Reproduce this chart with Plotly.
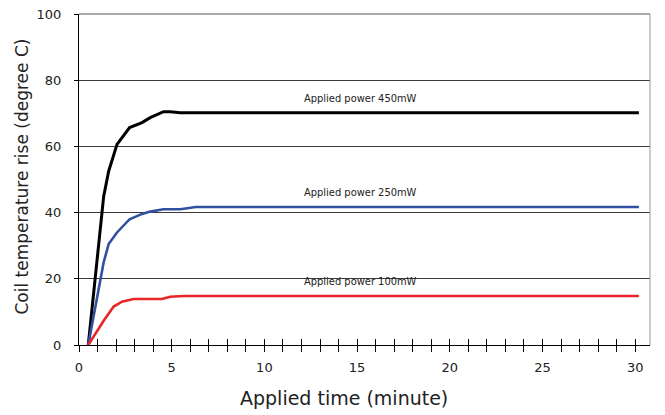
import plotly.graph_objects as go

# 450 mW series
t_450 = [0.5, 1.33, 1.6, 2.05, 2.73, 3.4, 3.84, 4.56, 4.92, 5.46, 30.2]
temp_450 = [0, 44.9, 52.5, 60.6, 65.7, 67.2, 68.7, 70.5, 70.5, 70.2, 70.2]

# 250 mW series
t_250 = [0.5, 1.33, 1.6, 2.05, 2.73, 3.4, 3.84, 4.56, 4.92, 5.46, 6.3, 30.2]
temp_250 = [0, 25.0, 30.5, 34.0, 38.0, 39.6, 40.3, 41.0, 41.0, 41.0, 41.7, 41.7]

# 100 mW series
t_100 = [0.5, 1.33, 1.87, 2.32, 2.94, 4.47, 4.92, 5.64, 30.2]
temp_100 = [0, 7.3, 11.6, 13.1, 13.9, 13.9, 14.6, 14.8, 14.8]

labels = ["Applied power 450mW", "Applied power 250mW", "Applied power 100mW"]
label_x = [15.2, 15.2, 15.2]
label_y = [74.6, 46.0, 19.2]

x_title = "Applied time (minute)"
y_title = "Coil temperature rise (degree C)"

fig = go.Figure()
fig.add_trace(go.Scatter(x=t_450, y=temp_450, mode="lines",
                         line=dict(color="#000000", width=3), showlegend=False))
fig.add_trace(go.Scatter(x=t_250, y=temp_250, mode="lines",
                         line=dict(color="#3050A0", width=2.6), showlegend=False))
fig.add_trace(go.Scatter(x=t_100, y=temp_100, mode="lines",
                         line=dict(color="#E8262A", width=2.6), showlegend=False))

for txt, lx, ly in zip(labels, label_x, label_y):
    fig.add_annotation(x=lx, y=ly, text=txt, showarrow=False,
                       font=dict(family="DejaVu Sans Condensed, DejaVu Sans", size=11, color="#222"))

# axis titles as paper annotations
fig.add_annotation(xref="paper", yref="paper", x=0.4635, y=-0.16, yanchor="middle",
                   text=x_title, showarrow=False, font=dict(size=19, color="#222"))
fig.add_annotation(xref="paper", yref="paper", x=-0.0992, y=0.51, xanchor="center", yanchor="middle",
                   textangle=-90, text=y_title, showarrow=False, font=dict(size=17, color="#222"))

xr = [0, 30.8]
fig.update_layout(
    width=657, height=407,
    margin=dict(l=70.7, r=15, t=6, b=70),
    paper_bgcolor="white", plot_bgcolor="white",
    font=dict(family="DejaVu Sans", color="#222"),
    xaxis=dict(range=xr, dtick=5, tick0=0, ticks="outside", ticklen=6, tickcolor="#000",
               showgrid=False, zeroline=False, showline=True, linecolor="#000", linewidth=1,
               tickfont=dict(size=13), ticklabelstandoff=4, automargin=False,
               ticklabeloverflow="allow",
               minor=dict(dtick=1, ticks="outside", ticklen=6, tickcolor="#000", showgrid=False)),
    xaxis2=dict(range=xr, overlaying="x", anchor="y", side="bottom", dtick=1, tick0=0,
                ticks="inside", ticklen=6, tickcolor="#000", showticklabels=False,
                showgrid=False, zeroline=False, showline=False, automargin=False),
    yaxis=dict(range=[0, 100], dtick=20, ticks="outside", ticklen=4, tickcolor="#000",
               showgrid=True, gridcolor="#3a3a3a", gridwidth=1, zeroline=False,
               showline=True, linecolor="#000", linewidth=1, automargin=False,
               ticklabeloverflow="allow",
               tickfont=dict(size=13), ticklabelstandoff=10),
)
# dummy trace to activate xaxis2
fig.add_trace(go.Scatter(x=[None], y=[None], xaxis="x2", showlegend=False, hoverinfo="skip"))
fig.add_shape(type="line", xref="paper", yref="paper", x0=1, x1=1, y0=0, y1=1,
              line=dict(color="#999999", width=1))
fig.add_shape(type="line", xref="paper", yref="paper", x0=0, x1=1, y0=1, y1=1,
              line=dict(color="#555555", width=1))

fig.write_html("out.html")
